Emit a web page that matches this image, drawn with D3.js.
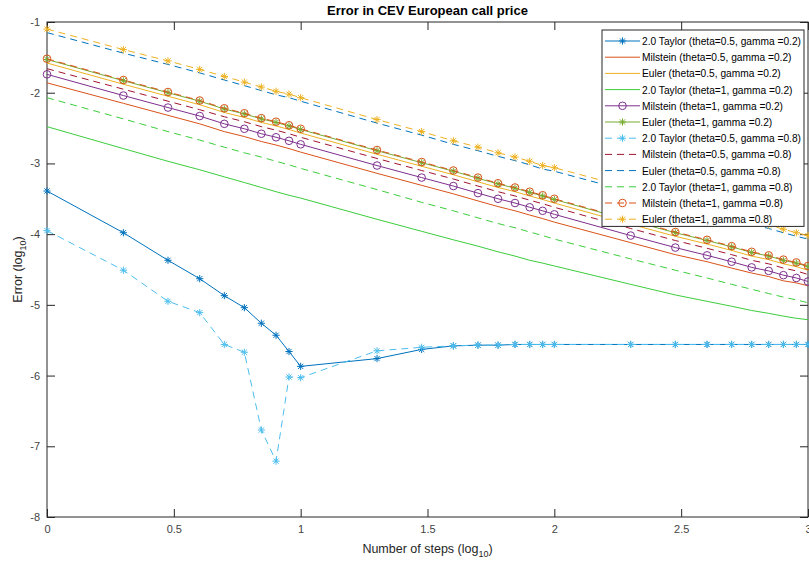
<!DOCTYPE html>
<html>

<head>
    <meta charset="utf-8">
    <style>
        body {
            margin: 0;
            background: #fff;
        }

        svg {
            display: block;
        }

        text {
            font-family: "Liberation Sans", Arial, sans-serif;
            fill: #262626;
        }

        .axis text {
            font-size: 11px;
            fill: #444;
        }

        .axis .domain {
            display: none;
        }

        .axis line {
            stroke: #262626;
        }

        .title {
            font-size: 13px;
            font-weight: bold;
            fill: #000;
        }

        .axis-label {
            font-size: 12.5px;
            fill: #262626;
        }

        .legend text {
            font-size: 10.2px;
            fill: #000;
        }
    </style>
</head>

<body>
    <svg width="809" height="568"></svg>

    <script src="https://cdn.jsdelivr.net/npm/d3@7"></script>
    <script>
        // number of steps, already in log10 (1..10, 20..100, 200..1000)
        let logSteps = [0, 0.301, 0.477, 0.602, 0.699, 0.778, 0.845, 0.903, 0.954, 1,
            1.301, 1.477, 1.602, 1.699, 1.778, 1.845, 1.903, 1.954, 2,
            2.301, 2.477, 2.602, 2.699, 2.778, 2.845, 2.903, 2.954, 3];

        let xTicks = [0, 0.5, 1, 1.5, 2, 2.5, 3];
        let yTicks = [-8, -7, -6, -5, -4, -3, -2, -1];

        let seriesNames = [
            "2.0 Taylor (theta=0.5, gamma =0.2)",
            "Milstein (theta=0.5, gamma =0.2)",
            "Euler (theta=0.5, gamma =0.2)",
            "2.0 Taylor (theta=1, gamma =0.2)",
            "Milstein (theta=1, gamma =0.2)",
            "Euler (theta=1, gamma =0.2)",
            "2.0 Taylor (theta=0.5, gamma =0.8)",
            "Milstein (theta=0.5, gamma =0.8)",
            "Euler (theta=0.5, gamma =0.8)",
            "2.0 Taylor (theta=1, gamma =0.8)",
            "Milstein (theta=1, gamma =0.8)",
            "Euler (theta=1, gamma =0.8)"];

        // error values (log10)
        let taylor05g02 = [-3.39, -3.98, -4.37, -4.63, -4.87, -5.04, -5.26, -5.43, -5.66, -5.87,
            -5.76, -5.63, -5.58, -5.57, -5.57, -5.56, -5.56, -5.56, -5.56,
            -5.56, -5.56, -5.56, -5.56, -5.56, -5.56, -5.56, -5.56, -5.56];
        let milstein05g02 = [-1.86, -2.15, -2.32, -2.44, -2.55, -2.62, -2.69, -2.74, -2.79, -2.84,
            -3.14, -3.31, -3.43, -3.53, -3.61, -3.67, -3.73, -3.78, -3.83,
            -4.12, -4.29, -4.39, -4.48, -4.55, -4.60, -4.66, -4.69, -4.73];
        let euler05g02 = [-1.58, -1.88, -2.05, -2.17, -2.28, -2.35, -2.42, -2.47, -2.52, -2.57,
            -2.87, -3.04, -3.16, -3.26, -3.34, -3.40, -3.46, -3.51, -3.56,
            -3.86, -4.03, -4.14, -4.23, -4.31, -4.36, -4.42, -4.46, -4.51];
        let taylor1g02 = [-2.48, -2.79, -2.97, -3.09, -3.19, -3.27, -3.34, -3.40, -3.45, -3.49,
            -3.79, -3.96, -4.08, -4.17, -4.25, -4.31, -4.37, -4.41, -4.45,
            -4.71, -4.86, -4.95, -5.02, -5.08, -5.12, -5.16, -5.19, -5.21];
        let milstein1g02 = [-1.74, -2.04, -2.21, -2.33, -2.44, -2.51, -2.58, -2.63, -2.68, -2.73,
            -3.03, -3.20, -3.32, -3.42, -3.50, -3.56, -3.62, -3.67, -3.72,
            -4.02, -4.19, -4.30, -4.39, -4.47, -4.52, -4.58, -4.62, -4.67];
        let euler1g02 = [-1.53, -1.83, -2.00, -2.12, -2.23, -2.30, -2.37, -2.42, -2.47, -2.52,
            -2.82, -2.99, -3.11, -3.21, -3.29, -3.35, -3.41, -3.46, -3.51,
            -3.81, -3.98, -4.09, -4.18, -4.26, -4.31, -4.37, -4.41, -4.46];
        let taylor05g08 = [-3.95, -4.51, -4.95, -5.11, -5.56, -5.67, -6.77, -7.21, -6.02, -6.03,
            -5.65, -5.60, -5.58, -5.57, -5.57, -5.56, -5.56, -5.56, -5.56,
            -5.56, -5.56, -5.56, -5.56, -5.56, -5.56, -5.56, -5.56, -5.56];
        let milstein05g08 = [-1.66, -1.95, -2.12, -2.24, -2.34, -2.41, -2.48, -2.53, -2.58, -2.63,
            -2.93, -3.10, -3.22, -3.32, -3.40, -3.46, -3.52, -3.57, -3.62,
            -3.92, -4.09, -4.20, -4.29, -4.37, -4.42, -4.48, -4.52, -4.57];
        let euler05g08 = [-1.15, -1.44, -1.60, -1.72, -1.82, -1.90, -1.97, -2.03, -2.07, -2.12,
            -2.43, -2.60, -2.73, -2.82, -2.90, -2.96, -3.02, -3.08, -3.11,
            -3.40, -3.57, -3.69, -3.78, -3.86, -3.92, -3.98, -4.03, -4.07];
        let taylor1g08 = [-2.07, -2.37, -2.55, -2.67, -2.77, -2.85, -2.91, -2.97, -3.02, -3.07,
            -3.37, -3.55, -3.67, -3.77, -3.85, -3.91, -3.97, -4.02, -4.07,
            -4.35, -4.51, -4.62, -4.71, -4.78, -4.84, -4.89, -4.93, -4.97];
        let milstein1g08 = [-1.52, -1.82, -1.99, -2.11, -2.22, -2.29, -2.36, -2.41, -2.46, -2.51,
            -2.81, -2.98, -3.10, -3.20, -3.28, -3.34, -3.40, -3.45, -3.50,
            -3.80, -3.97, -4.08, -4.17, -4.25, -4.30, -4.36, -4.40, -4.45];
        let euler1g08 = [-1.10, -1.39, -1.55, -1.67, -1.77, -1.85, -1.92, -1.98, -2.02, -2.07,
            -2.38, -2.55, -2.68, -2.77, -2.85, -2.91, -2.97, -3.03, -3.06,
            -3.35, -3.52, -3.64, -3.73, -3.81, -3.87, -3.93, -3.98, -4.02];

        let seriesValues = [taylor05g02, milstein05g02, euler05g02, taylor1g02, milstein1g02, euler1g02,
            taylor05g08, milstein05g08, euler05g08, taylor1g08, milstein1g08, euler1g08];

        // matlab-ish line styles, one per series
        let green = "#3ccd3c";
        let styles = [
            { color: "#0072BD", dash: null, marker: "star" },
            { color: "#D95319", dash: null, marker: null },
            { color: "#EDB120", dash: null, marker: null },
            { color: green, dash: null, marker: null },
            { color: "#7E2F8E", dash: null, marker: "circle" },
            { color: "#77AC30", dash: null, marker: "star" },
            { color: "#4DBEEE", dash: "7,5", marker: "star" },
            { color: "#A2142F", dash: "7,5", marker: null },
            { color: "#0072BD", dash: "7,5", marker: null },
            { color: green, dash: "7,5", marker: null },
            { color: "#D95319", dash: "7,5", marker: "circle" },
            { color: "#EDB120", dash: "7,5", marker: "star" }];

        let series = seriesNames.map((name, i) => ({ name: name, values: seriesValues[i], style: styles[i] }));

        let margin = { top: 22, right: 1, bottom: 51, left: 47 };
        let width = 809;
        let height = 568;

        let svg = d3.select("svg");

        let x = d3.scaleLinear()
            .domain([0, 3])
            .range([margin.left, width - margin.right]);

        let y = d3.scaleLinear()
            .domain([-8, -1])
            .range([height - margin.bottom, margin.top]);

        let tickLen = 8;

        // axes, ticks pointing inward like matlab
        svg.append("g")
            .attr("class", "x axis")
            .attr("transform", `translate(0,${y(-8)})`)
            .call(d3.axisBottom(x).tickValues(xTicks).tickSizeInner(-tickLen).tickSizeOuter(0)
                .tickPadding(8).tickFormat(d => String(d)));

        svg.append("g")
            .attr("class", "axis")
            .attr("transform", `translate(0,${y(-1)})`)
            .call(d3.axisTop(x).tickValues(xTicks).tickSizeInner(-tickLen).tickSizeOuter(0)
                .tickFormat(""));

        svg.append("g")
            .attr("class", "y axis")
            .attr("transform", `translate(${x(0)},0)`)
            .call(d3.axisLeft(y).tickValues(yTicks).tickSizeInner(-tickLen).tickSizeOuter(0)
                .tickPadding(7).tickFormat(d => String(d)));

        svg.append("g")
            .attr("class", "axis")
            .attr("transform", `translate(${x(3)},0)`)
            .call(d3.axisRight(y).tickValues(yTicks).tickSizeInner(-tickLen).tickSizeOuter(0)
                .tickFormat(""));

        // box
        svg.append("rect")
            .attr("x", x(0))
            .attr("y", y(-1))
            .attr("width", x(3) - x(0))
            .attr("height", y(-8) - y(-1))
            .attr("fill", "none")
            .attr("stroke", "#262626")
            .attr("stroke-width", 1);

        function starPath(r) {
            let a = r * 0.72;
            return `M0,${-r}V${r}M${-r},0H${r}M${-a},${-a}L${a},${a}M${-a},${a}L${a},${-a}`;
        }

        function drawMarker(g, type, color) {
            if (type == "star") {
                g.append("path").attr("d", starPath(3.6))
                    .attr("fill", "none").attr("stroke", color).attr("stroke-width", 1);
            } else if (type == "circle") {
                g.append("circle").attr("r", 3.8)
                    .attr("fill", "none").attr("stroke", color).attr("stroke-width", 1);
            }
        }

        let line = d3.line()
            .x((d, i) => x(logSteps[i]))
            .y(d => y(d));

        let plot = svg.append("g").attr("class", "lines");

        series.forEach(function (s) {
            let g = plot.append("g");
            g.append("path")
                .attr("d", line(s.values))
                .attr("fill", "none")
                .attr("stroke", s.style.color)
                .attr("stroke-width", 1)
                .attr("stroke-dasharray", s.style.dash);

            if (s.style.marker) {
                g.selectAll("g.mk")
                    .data(s.values)
                    .join("g")
                    .attr("class", "mk")
                    .attr("transform", (d, i) => `translate(${x(logSteps[i])},${y(d)})`)
                    .each(function () { drawMarker(d3.select(this), s.style.marker, s.style.color); });
            }
        });

        // title and axis labels
        svg.append("text")
            .attr("class", "title")
            .attr("x", x(1.5))
            .attr("y", 15)
            .attr("text-anchor", "middle")
            .text("Error in CEV European call price");

        let xl = svg.append("text")
            .attr("class", "axis-label")
            .attr("x", x(1.5))
            .attr("y", 553)
            .attr("text-anchor", "middle");
        xl.append("tspan").text("Number of steps (log");
        xl.append("tspan").attr("dy", 4).attr("font-size", "9px").text("10");
        xl.append("tspan").attr("dy", -4).text(")");

        let yl = svg.append("text")
            .attr("class", "axis-label")
            .attr("transform", `translate(22,${y(-4.5)}) rotate(-90)`)
            .attr("text-anchor", "middle");
        yl.append("tspan").text("Error  (log");
        yl.append("tspan").attr("dy", 4).attr("font-size", "9px").text("10");
        yl.append("tspan").attr("dy", -4).text(")");

        // legend box, top right
        let legX = 602, legY = 30, legW = 202, rowH = 16.2;
        let legend = svg.append("g").attr("class", "legend");

        legend.append("rect")
            .attr("x", legX)
            .attr("y", legY)
            .attr("width", legW)
            .attr("height", rowH * series.length + 2)
            .attr("fill", "#fff")
            .attr("stroke", "#262626")
            .attr("stroke-width", 1);

        let rows = legend.selectAll("g.row")
            .data(series)
            .join("g")
            .attr("class", "row")
            .attr("transform", (d, i) => `translate(${legX},${legY + 11 + i * rowH})`);

        rows.append("line")
            .attr("x1", 3)
            .attr("x2", 38)
            .attr("stroke", d => d.style.color)
            .attr("stroke-width", 1)
            .attr("stroke-dasharray", d => d.style.dash);

        rows.each(function (d) {
            if (d.style.marker) {
                let m = d3.select(this).append("g").attr("transform", "translate(20.5,0)");
                drawMarker(m, d.style.marker, d.style.color);
            }
        });

        rows.append("text")
            .attr("x", 40)
            .attr("y", 4)
            .text(d => d.name);
    </script>
</body>

</html>
